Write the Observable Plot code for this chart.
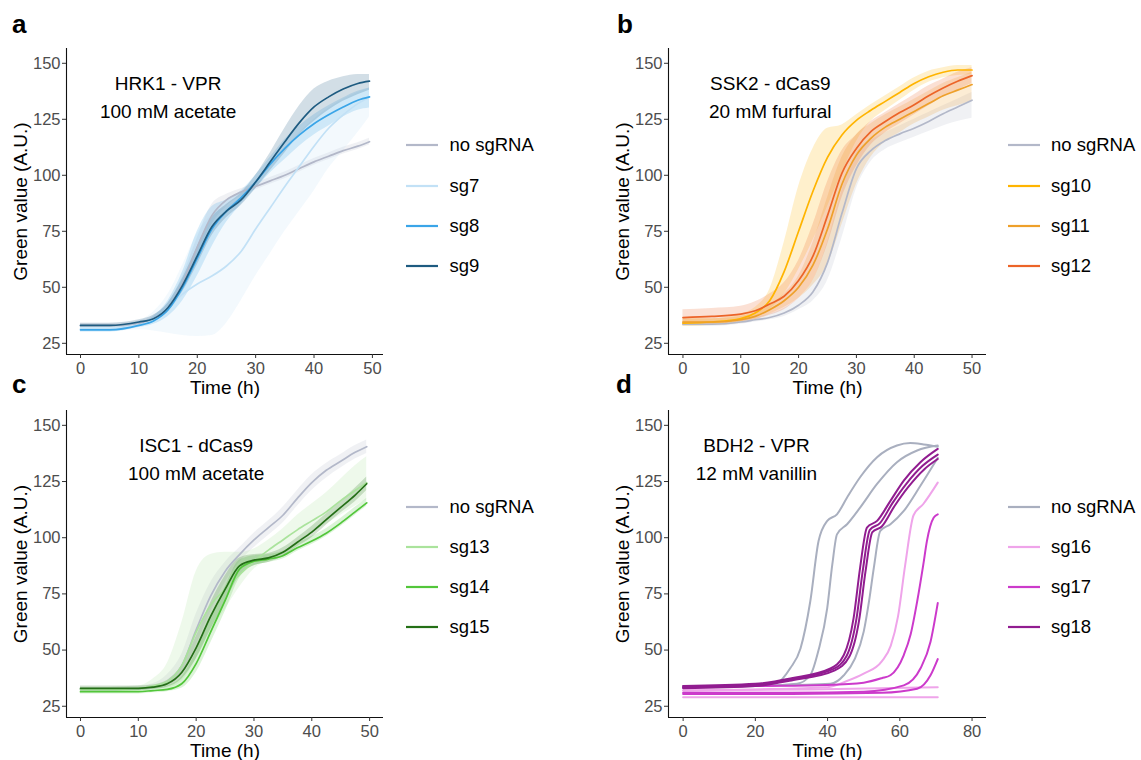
<!DOCTYPE html>
<html><head><meta charset="utf-8">
<script src="https://cdn.jsdelivr.net/npm/d3@7"></script>
<script src="https://cdn.jsdelivr.net/npm/@observablehq/plot@0.6"></script>
<style>
body{margin:0;background:#fff;font-family:"Liberation Sans",Arial,sans-serif;}
#root{position:relative;width:1141px;height:760px;overflow:hidden;background:#fff;}
.panel{position:absolute;}
.letter{position:absolute;font-weight:bold;font-size:26px;line-height:26px;color:#000;}
.row{position:absolute;height:24px;line-height:24px;display:flex;align-items:center;white-space:nowrap;font-size:18.5px;color:#000;}
</style></head><body><div id="root"></div>
<script>
// ---------- Panel a : HRK1 - VPR, 100 mM acetate ----------
const tA = [0, 5, 10, 12.5, 15, 17.5, 20, 22.5, 25, 27.5, 30, 32.5, 35, 37.5, 40, 42.5, 45, 47.5, 49.5];
const aNoMean = [33, 33, 34, 36, 41, 52, 68, 82, 89, 92.5, 95, 97.5, 100, 103, 106, 108.5, 111, 113, 115];
const aNoLo   = [32, 32, 33, 34.5, 39, 49, 64, 78, 86, 90.5, 93.5, 96, 98.5, 101.5, 104.5, 107, 109.5, 111.5, 113.5];
const aNoHi   = [34, 34, 35, 37.5, 43, 55, 72, 87, 91.5, 94, 96.5, 99, 101.5, 104.5, 107.5, 110, 112.5, 114.5, 116.5];
const a7Mean  = [31.5, 31.5, 33, 35.5, 41, 47, 51.5, 55, 59.5, 66, 76, 85.5, 95, 104, 113, 121, 127, 132, 135];
const a7Lo    = [30, 30, 31, 30.5, 29.5, 28.5, 28, 28.5, 34, 44, 55, 65, 75, 84, 93, 103, 111, 119, 126];
const a7Hi    = [33, 33, 35, 39, 47, 60, 74, 82, 86, 90, 96, 104, 112, 119, 125, 130, 134, 137, 139];
const a8Mean  = [31, 31, 33, 35, 40, 50, 63, 76, 84, 90, 97, 105, 112, 118, 123, 127, 130.5, 133.5, 135];
const a8Lo    = [30, 30, 32, 33.5, 37, 44, 55, 68, 79, 87, 94, 101, 107, 113, 118, 122, 126, 129, 130];
const a8Hi    = [32, 32, 34, 37, 44, 57, 75, 86, 89, 93, 100, 108, 116, 122, 127, 131, 134.5, 137.5, 139];
const a9Mean  = [33, 33, 34.5, 36, 41, 51, 64, 77, 84, 89, 97, 106, 115, 123.5, 130.5, 135, 138.5, 141, 142];
const a9Lo    = [32, 32, 33.5, 35, 39, 48, 60, 73, 81, 86.5, 94, 102, 110, 118, 124, 129, 133, 136, 138];
const a9Hi    = [34, 34, 35.5, 37.5, 43, 54, 68, 81, 87, 92, 100, 110, 121, 131, 138.5, 142, 144, 145, 145];

// ---------- Panel b : SSK2 - dCas9, 20 mM furfural ----------
const tB = [0, 5, 10, 12.5, 15, 17.5, 20, 22.5, 25, 27.5, 30, 32.5, 35, 37.5, 40, 42.5, 45, 47.5, 50];
const bNoMean = [33.5, 33.5, 34.5, 35.5, 36.5, 38.5, 42, 48, 61, 83, 103, 111, 115.5, 118.5, 121, 124, 127.5, 130.5, 133.5];
const bNoLo   = [32.5, 32.5, 33.5, 34.5, 35.5, 37, 40, 44, 53, 72, 94, 106, 111.5, 114.5, 117, 119.5, 122, 124, 125.5];
const bNoHi   = [34.5, 34.5, 35.5, 36.5, 38, 40.5, 45, 53, 70, 93, 110, 115.5, 119, 122, 125, 128, 131, 134, 137];
const b10Mean = [34, 34.5, 36, 38.5, 44, 57, 75, 93, 108, 118, 124.5, 129, 133, 137, 141, 144, 146, 147, 147];
const b10Lo   = [32.5, 33, 34.5, 36.5, 40, 47, 58, 71, 86, 101, 115, 124, 129, 133.5, 138, 141.5, 143.5, 144.5, 145];
const b10Hi   = [36, 36, 38, 41, 49, 70, 95, 112, 121, 122.5, 127, 131.5, 135.5, 139.5, 143.5, 146.5, 148, 149, 149];
const b11Mean = [34.5, 34.5, 35.5, 37, 40, 44, 50, 60, 76, 96, 109, 116.5, 121.5, 125, 128.5, 132, 135.5, 138, 140.5];
const b11Lo   = [33, 33, 34, 35.5, 38, 41, 45, 51, 60, 78, 96, 108, 115, 119, 123, 126, 129, 131, 133];
const b11Hi   = [36, 36, 37, 38.5, 42, 47, 55, 70, 90, 108, 118, 123, 127, 130.5, 134, 137.5, 141, 143.5, 146];
const b12Mean = [36.5, 37, 38, 39.5, 42.5, 46, 53, 64, 82, 101, 112, 119.5, 124, 128, 131.5, 135.5, 139, 142, 144.5];
const b12Lo   = [33, 33.5, 34.5, 35.5, 37.5, 40, 45, 53, 69, 90, 104, 113.5, 119, 123, 127, 131, 135, 138, 141];
const b12Hi   = [40, 40.5, 41.5, 43.5, 47, 52, 62, 78, 97, 111, 118, 124, 128, 132, 136, 140, 143, 146, 148];

// ---------- Panel c : ISC1 - dCas9, 100 mM acetate ----------
const tC = [0, 5, 10, 12.5, 15, 17.5, 20, 22.5, 25, 27.5, 30, 32.5, 35, 37.5, 40, 42.5, 45, 47.5, 49.5];
const cNoMean = [32.5, 32.5, 33, 33.5, 36, 43, 59, 74, 85, 92.5, 99, 104.5, 110, 117.5, 124.5, 130, 134, 138, 140.5];
const cNoLo   = [31.5, 31.5, 32, 32.5, 34, 39, 52, 67, 80, 89, 95.5, 101, 106.5, 114, 121, 126.5, 131, 135, 137.5];
const cNoHi   = [33.5, 33.5, 34, 35, 39, 48, 66, 80, 89, 95.5, 102, 107.5, 113.5, 121, 128, 133, 137, 141, 143.5];
const c13Mean = [32.5, 32.5, 33, 34, 36, 43, 58, 70, 77, 83.5, 89.5, 94.5, 99, 103.5, 107.5, 111.5, 116.5, 121, 124.5];
const c13Lo   = [31.5, 31.5, 32, 32.5, 33, 36, 46, 58, 68, 78, 86, 90, 94, 98, 102, 106, 110, 114, 117];
const c13Hi   = [33.5, 33.5, 34, 37, 44, 62, 85, 92.5, 93.5, 93.5, 95, 99, 104, 110, 115, 120, 126, 132, 136];
const c14Mean = [31.5, 31.5, 31.5, 32, 32.5, 35, 44, 58, 72, 86, 89.5, 90.5, 92, 95.5, 98.5, 102, 106.5, 111.5, 115.5];
const c14Lo   = [30.5, 30.5, 30.5, 31, 31.5, 33, 40, 53, 67, 82, 87.5, 89, 90.5, 94, 97, 100.5, 105, 110, 114];
const c14Hi   = [32.5, 32.5, 32.5, 33, 34, 38, 49, 64, 78, 90, 92, 92.5, 94, 97.5, 100.5, 104, 108.5, 113.5, 117.5];
const c15Mean = [33, 33, 33, 33.5, 35, 40, 51, 65, 77, 87.5, 90, 91, 93.5, 98, 102.5, 108, 113.5, 119, 124];
const c15Lo   = [32, 32, 32, 32.5, 33.5, 37, 46, 59, 71, 83, 87.5, 89, 91.5, 96, 100, 105.5, 111, 116, 121];
const c15Hi   = [34, 34, 34, 34.5, 36.5, 43, 56, 71, 83, 91, 92.5, 93, 95.5, 100, 105, 110.5, 116, 122, 127];

// ---------- Panel d : BDH2 - VPR, 12 mM vanillin (individual replicates) ----------
const dNo1T = [0, 10, 20, 26, 29.7, 32.5, 35.2, 37.5, 39.9, 42.6, 45.4, 49, 53.7, 59.2, 62.9, 66.6, 70.5];
const dNo1Y = [34, 34, 34.5, 35.5, 42, 50.7, 71.6, 98.5, 107.5, 110.4, 117.9, 126.9, 135.8, 141, 142.1, 141.5, 140.5];
const dNo2T = [0, 20, 31.5, 35.2, 37.5, 39.9, 41.3, 42.6, 45.4, 49, 53.7, 59.2, 64.8, 70.5];
const dNo2Y = [33.5, 34, 35, 38.8, 50, 68.7, 88, 101.5, 106, 113.4, 123.9, 133.6, 138.8, 141];
const dNo3T = [0, 20, 40.8, 44.5, 47.5, 50, 51.5, 52.8, 54.6, 57.4, 61.1, 65.7, 70.5];
const dNo3Y = [33.5, 34, 35, 38.8, 46, 58.2, 72, 86.6, 103, 106, 111.9, 123.1, 135.5];
const d16aT = [0, 20, 40, 45, 50, 55, 57.5, 59.5, 61.5, 63.8, 66.5, 70.5];
const d16aY = [32, 32.5, 33.5, 36, 39.5, 45, 52, 65, 88, 110, 115, 124.5];
const d16bT = [0, 35, 70.5];
const d16bY = [32, 32.5, 33.5];
const d16cT = [0, 35, 70.5];
const d16cY = [29, 29, 29];
const d17aT = [0, 20, 40, 50, 55, 57.4, 61.1, 63, 64.8, 66.5, 67.5, 69.4, 70.5];
const d17aY = [33.5, 34, 34.5, 35.5, 37.5, 38.8, 47.8, 57, 71.6, 88, 98.5, 109, 110.4];
const d17bT = [0, 30, 50, 61.1, 65.7, 68.5, 70.5];
const d17bY = [31, 31, 31.5, 34.3, 41.8, 53.7, 70.9];
const d17cT = [0, 30, 55, 64.8, 68.5, 70.5];
const d17cY = [30.5, 30.5, 31, 32.8, 38.8, 46];
const d18aT = [0, 20, 30, 40.8, 44.5, 47.2, 49, 50.9, 53.7, 57.4, 61.1, 65.7, 70.5];
const d18aY = [34, 35, 37.5, 41.8, 47.8, 64.2, 86.6, 104.5, 107.5, 116.4, 125.4, 133.6, 139.5];
const d18bT = [0, 20, 30, 41.5, 45.3, 48, 49.8, 51.7, 54.5, 58, 61.8, 66.3, 70.5];
const d18bY = [33.5, 34.5, 37, 41.5, 47.5, 64, 86, 103.5, 106.5, 115.5, 124, 132, 137];
const d18cT = [0, 20, 30, 42, 46, 48.7, 50.5, 52.4, 55, 58.5, 62.3, 66.8, 70.5];
const d18cY = [33, 34, 36.5, 41, 47, 63, 85, 102.5, 105, 114, 122.5, 130.5, 135];

// ---------- Labels, colours, ticks ----------
const namesA = ["no sgRNA", "sg7", "sg8", "sg9"];
const namesB = ["no sgRNA", "sg10", "sg11", "sg12"];
const namesC = ["no sgRNA", "sg13", "sg14", "sg15"];
const namesD = ["no sgRNA", "sg16", "sg17", "sg18"];
const colorsA = ["#B3B8C9", "#C2E1F6", "#3AA5E8", "#1E5B80"];
const colorsB = ["#B3B8C9", "#FFB400", "#EEA02A", "#EC6428"];
const colorsC = ["#B3B8C9", "#AAE39C", "#52C63A", "#246F16"];
const colorsD = ["#A9AFBF", "#EFA4EA", "#CC3ACB", "#911C90"];
const ticks50 = [0, 10, 20, 30, 40, 50];
const ticks80 = [0, 20, 40, 60, 80];
const ticksY = [25, 50, 75, 100, 125, 150];
const titlesA = ["HRK1 - VPR", "100 mM acetate"];
const titlesB = ["SSK2 - dCas9", "20 mM furfural"];
const titlesC = ["ISC1 - dCas9", "100 mM acetate"];
const titlesD = ["BDH2 - VPR", "12 mM vanillin"];
const yLabel = "Green value (A.U.)";
const xLabel = "Time (h)";
const FONT = "Liberation Sans, Arial, sans-serif";

function ribbonRows(t, names, means, los, his) {
  const rows = [];
  names.forEach((n, k) => means[k].forEach((m, i) => rows.push({t: t[i], name: n, mean: m, lo: los[k][i], hi: his[k][i]})));
  return rows;
}
function lineRows(list) {
  const rows = [];
  list.forEach(([name, id, T, Y]) => T.forEach((t, i) => rows.push({t, v: Y[i], name, id})));
  return rows;
}

function makePanel(cfg) {
  const marks = [];
  if (cfg.rows) {
    marks.push(Plot.areaY(cfg.rows, {x: "t", y1: "lo", y2: "hi", z: "name", fill: "name", fillOpacity: 0.2, curve: "monotone-x"}));
    marks.push(Plot.lineY(cfg.rows, {x: "t", y: "mean", z: "name", stroke: "name", strokeWidth: 1.7, curve: "monotone-x"}));
  }
  if (cfg.lines) {
    marks.push(Plot.lineY(cfg.lines, {x: "t", y: "v", z: "id", stroke: "name", strokeWidth: 2, curve: "monotone-x"}));
  }
  marks.push(
    Plot.ruleX([cfg.xdom[0]], {stroke: "#111", strokeWidth: 1.1}),
    Plot.ruleY([20], {stroke: "#111", strokeWidth: 1.1}),
    Plot.axisX(cfg.xticks, {tickSize: 4, tickPadding: 4, fontSize: 16.5, fill: "#4D4D4D", stroke: "#333", label: null}),
    Plot.axisY(ticksY, {tickSize: 4, tickPadding: 2, fontSize: 16.5, fill: "#4D4D4D", stroke: "#333", label: null}),
    Plot.text([cfg.titles[0]], {x: cfg.tx, y: 140.8, text: d => d, fontSize: 19, fill: "#000"}),
    Plot.text([cfg.titles[1]], {x: cfg.tx, y: 128.5, text: d => d, fontSize: 19, fill: "#000"}),
    Plot.text([yLabel], {frameAnchor: "left", dx: -46, rotate: -90, textAnchor: "middle", lineAnchor: "middle", text: d => d, fontSize: 19, fill: "#000"}),
    Plot.text([xLabel], {frameAnchor: "bottom", dy: 33, textAnchor: "middle", lineAnchor: "middle", text: d => d, fontSize: 19, fill: "#000"})
  );
  return Plot.plot({
    width: cfg.w, height: cfg.h,
    marginLeft: cfg.ml, marginRight: cfg.mr, marginTop: cfg.mt, marginBottom: cfg.mb,
    style: {fontFamily: FONT, background: "transparent", overflow: "visible"},
    x: {domain: cfg.xdom},
    y: {domain: [20, 156.6]},
    color: {domain: cfg.names, range: cfg.colors},
    marks
  });
}

const root = document.getElementById("root");
function place(node, left, top) {
  const div = document.createElement("div");
  div.className = "panel";
  div.style.left = left + "px"; div.style.top = top + "px";
  div.appendChild(node); root.appendChild(div);
}
function letter(ch, left, top) {
  const d = document.createElement("div");
  d.className = "letter"; d.textContent = ch;
  d.style.left = left + "px"; d.style.top = top + "px";
  root.appendChild(d);
}
function legend(names, colors, lineX, textX, ys) {
  names.forEach((n, i) => {
    const row = document.createElement("div");
    row.className = "row";
    row.style.left = lineX + "px"; row.style.top = (ys[i] - 12) + "px";
    const svg = document.createElementNS("http://www.w3.org/2000/svg", "svg");
    svg.setAttribute("width", textX - lineX); svg.setAttribute("height", 24);
    const ln = document.createElementNS("http://www.w3.org/2000/svg", "line");
    ln.setAttribute("x1", 0); ln.setAttribute("x2", 32); ln.setAttribute("y1", 12); ln.setAttribute("y2", 12);
    ln.setAttribute("stroke", colors[i]); ln.setAttribute("stroke-width", 2.2);
    svg.appendChild(ln); row.appendChild(svg);
    const sp = document.createElement("span"); sp.textContent = n; row.appendChild(sp);
    root.appendChild(row);
  });
}

const rowsA = ribbonRows(tA, namesA, [aNoMean, a7Mean, a8Mean, a9Mean], [aNoLo, a7Lo, a8Lo, a9Lo], [aNoHi, a7Hi, a8Hi, a9Hi]);
const rowsB = ribbonRows(tB, namesB, [bNoMean, b10Mean, b11Mean, b12Mean], [bNoLo, b10Lo, b11Lo, b12Lo], [bNoHi, b10Hi, b11Hi, b12Hi]);
const rowsC = ribbonRows(tC, namesC, [cNoMean, c13Mean, c14Mean, c15Mean], [cNoLo, c13Lo, c14Lo, c15Lo], [cNoHi, c13Hi, c14Hi, c15Hi]);
const linesD = lineRows([
  ["no sgRNA", "n1", dNo1T, dNo1Y], ["no sgRNA", "n2", dNo2T, dNo2Y], ["no sgRNA", "n3", dNo3T, dNo3Y],
  ["sg16", "a1", d16aT, d16aY], ["sg16", "a2", d16bT, d16bY], ["sg16", "a3", d16cT, d16cY],
  ["sg17", "b1", d17aT, d17aY], ["sg17", "b2", d17bT, d17bY], ["sg17", "b3", d17cT, d17cY],
  ["sg18", "c1", d18aT, d18aY], ["sg18", "c2", d18bT, d18bY], ["sg18", "c3", d18cT, d18cY]
]);

place(makePanel({rows: rowsA, names: namesA, colors: colorsA, xdom: [-2.4, 51.9], xticks: ticks50, titles: titlesA, tx: 15,
  w: 395, h: 400, ml: 66, mr: 12, mt: 48, mb: 46}), 0, 0);
place(makePanel({rows: rowsB, names: namesB, colors: colorsB, xdom: [-2.5, 52.5], xticks: ticks50, titles: titlesB, tx: 15.1,
  w: 400, h: 400, ml: 78, mr: 4, mt: 48, mb: 46}), 590, 0);
place(makePanel({rows: rowsC, names: namesC, colors: colorsC, xdom: [-2.42, 52.4], xticks: ticks50, titles: titlesC, tx: 20,
  w: 395, h: 360, ml: 66, mr: 12, mt: 10, mb: 43}), 0, 400);
place(makePanel({lines: linesD, names: namesD, colors: colorsD, xdom: [-4.05, 84], xticks: ticks80, titles: titlesD, tx: 20.3,
  w: 400, h: 360, ml: 78, mr: 4, mt: 10, mb: 43}), 590, 400);

letter("a", 12, 11); letter("b", 617, 11); letter("c", 12, 371); letter("d", 616, 371);
legend(namesA, colorsA, 406, 449.5, [145, 185.5, 225.5, 265.5]);
legend(namesB, colorsB, 1008, 1051, [145, 185.5, 225.5, 265.5]);
legend(namesC, colorsC, 406, 449.5, [507, 547, 587, 627]);
legend(namesD, colorsD, 1008, 1051, [507, 547, 587, 627]);
</script></body></html>
